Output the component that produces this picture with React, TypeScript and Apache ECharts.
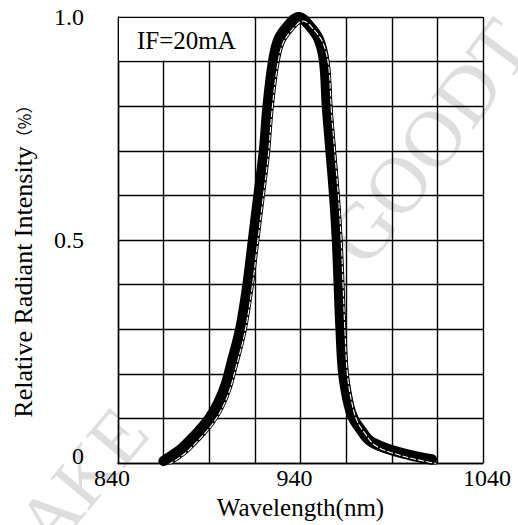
import React, { useEffect, useRef } from "react";
import * as echarts from "echarts";

// Spectrum (wavelength in nm, relative intensity)
const wavelength = [
  865, 870, 875, 880, 885, 890, 895, 899, 902, 907, 911, 914, 917, 920, 922, 925, 928, 933, 939,
  945, 950, 953, 954.5, 956.5, 958.5, 960, 961, 962, 963.5, 966.5, 969, 973, 978, 987, 1000, 1012,
];
const intensity = [
  0.005, 0.018, 0.033, 0.053, 0.075, 0.1, 0.135, 0.175, 0.22, 0.3, 0.4, 0.5, 0.6, 0.7, 0.8, 0.9, 0.95, 0.98, 1.0,
  0.98, 0.95, 0.9, 0.8, 0.7, 0.6, 0.5, 0.4, 0.3, 0.2, 0.13, 0.1, 0.075, 0.05, 0.033, 0.018, 0.008,
];

const xTickLabels = [840, 940, 1040];
const yTickLabels = [0, 0.5, 1.0];
const annotationText = "IF=20mA";
const xTitle = "Wavelength(nm)";
const yTitle = "Relative Radiant Intensity";
const yUnit = "（%）";

export default function App() {
  const ref = useRef<HTMLDivElement>(null);

  useEffect(() => {
    const chart = echarts.init(ref.current as HTMLDivElement, null, { renderer: "svg" });
    const font = '"Liberation Serif", "Times New Roman", serif';
    const mainData = wavelength.map((w, i) => [w, intensity[i]]);
    const edgeData = wavelength.map((w, i) => [w + 2.4, intensity[i] - 0.009]);
    const near = (a: number, b: number) => Math.abs(a - b) < 1e-6;

    chart.setOption({
      animation: false,
      backgroundColor: "#ffffff",
      grid: { left: 118, top: 17, right: 35, bottom: 60, containLabel: false },
      xAxis: {
        type: "value",
        min: 840,
        max: 1040,
        interval: 25,
        name: xTitle,
        nameLocation: "middle",
        nameGap: 30,
        nameTextStyle: { fontFamily: font, fontSize: 25, color: "#000" },
        axisLine: { show: true, lineStyle: { color: "#000", width: 1.4 } },
        axisTick: { show: false },
        splitLine: { show: true, lineStyle: { color: "#000", width: 1.4 } },
        axisLabel: {
          margin: 3,
          fontFamily: font,
          fontSize: 24,
          color: "#000",
          showMinLabel: true,
          showMaxLabel: true,
          formatter: (v: number) => {
            const t = xTickLabels.find((x) => near(x, v));
            if (t === undefined) return "";
            return t === xTickLabels[xTickLabels.length - 1] ? `{r|${t}}` : `{l|${t}}`;
          },
          rich: {
            l: { fontFamily: font, fontSize: 24, color: "#000", padding: [0, 12, 0, 0] },
            r: { fontFamily: font, fontSize: 24, color: "#000", padding: [0, 0, 0, 8] },
          },
        },
      },
      yAxis: {
        type: "value",
        min: 0,
        max: 1,
        interval: 0.1,
        name: `${yTitle}{s|${yUnit}}`,
        nameLocation: "middle",
        nameGap: 82,
        nameTextStyle: {
          fontFamily: font,
          fontSize: 26,
          color: "#000",
          padding: [0, 34, 0, 0],
          rich: {
            s: { fontFamily: '"Noto Sans CJK SC", sans-serif', fontSize: 17, color: "#000" },
          },
        },
        axisLine: { show: true, lineStyle: { color: "#000", width: 1.4 } },
        axisTick: { show: false },
        splitLine: { show: true, lineStyle: { color: "#000", width: 1.4 } },
        axisLabel: {
          margin: 34,
          fontFamily: font,
          fontSize: 24,
          color: "#000",
          showMinLabel: true,
          showMaxLabel: true,
          formatter: (v: number) => {
            const t = yTickLabels.find((y) => near(y, v));
            if (t === undefined) return "";
            if (near(t, 0)) return "{z|0}";
            return t.toFixed(1);
          },
          rich: {
            z: { fontFamily: font, fontSize: 24, color: "#000", padding: [0, 0, 14, 0] },
          },
        },
      },
      series: [
        {
          type: "line",
          data: mainData,
          smooth: 0.35,
          symbol: "none",
          z: 3,
          lineStyle: { color: "#000", width: 10.5, cap: "round", join: "round" },
        },
        {
          type: "line",
          data: edgeData,
          smooth: 0.35,
          symbol: "none",
          z: 4,
          lineStyle: { color: "#000", width: 3, cap: "round", join: "round" },
        },
        {
          type: "line",
          data: edgeData,
          smooth: 0.35,
          symbol: "none",
          z: 5,
          lineStyle: { color: "#fff", width: 1.1, type: [6, 2], cap: "butt", join: "round" },
        },
      ],
    });

    const p0 = chart.convertToPixel({ gridIndex: 0 }, [840, 1.0]) as number[];
    const p1 = chart.convertToPixel({ gridIndex: 0 }, [915, 0.9]) as number[];

    chart.setOption({
      graphic: [
        {
          type: "text",
          silent: true,
          z: -10,
          x: 430,
          y: 142,
          rotation: (53 * Math.PI) / 180,
          style: {
            text: "GOODT",
            fontFamily: font,
            fontSize: 80,
            fill: "#dedede",
            align: "center",
            verticalAlign: "middle",
          },
        },
        {
          type: "text",
          silent: true,
          z: -10,
          x: 82,
          y: 478,
          rotation: (50 * Math.PI) / 180,
          style: {
            text: "AKE",
            fontFamily: font,
            fontSize: 76,
            fill: "#dedede",
            align: "center",
            verticalAlign: "middle",
          },
        },
        {
          type: "rect",
          silent: true,
          z: 1,
          shape: {
            x: p0[0] + 1,
            y: p0[1] + 1,
            width: p1[0] - p0[0] - 2,
            height: p1[1] - p0[1] - 2,
          },
          style: { fill: "#fff" },
        },
        {
          type: "text",
          silent: true,
          z: 6,
          x: (p0[0] + p1[0]) / 2,
          y: (p0[1] + p1[1]) / 2 + 1,
          style: {
            text: annotationText,
            fontFamily: font,
            fontSize: 25,
            fill: "#000",
            align: "center",
            verticalAlign: "middle",
          },
        },
      ],
    });

    return () => chart.dispose();
  }, []);

  return (
    <div
      ref={ref}
      style={{ position: "fixed", left: 0, top: 0, width: 518, height: 525, background: "#fff" }}
    />
  );
}
